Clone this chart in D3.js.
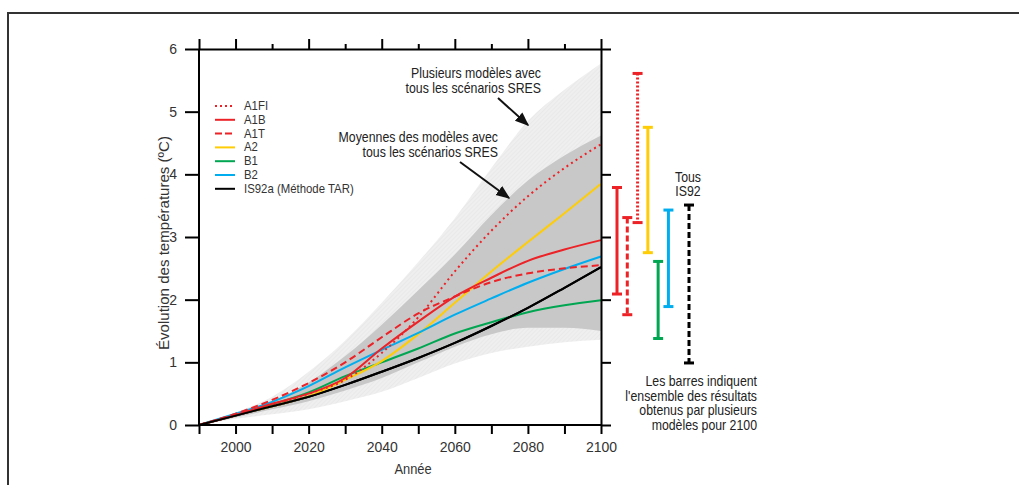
<!DOCTYPE html>
<html><head><meta charset="utf-8">
<script src="https://cdn.jsdelivr.net/npm/d3@7"></script>
<style>
html,body{margin:0;padding:0;background:#fff;}
svg{display:block;font-family:"Liberation Sans",Arial,sans-serif;}
</style></head>
<body><svg id="c" width="1019" height="485"></svg>
<script>
// ---- data ----
const years = [1990,2000,2010,2020,2030,2040,2050,2060,2070,2080,2090,2100];
const A1FI = [0,0.15,0.32,0.50,0.72,1.15,1.72,2.45,3.10,3.65,4.10,4.48];
const A1B  = [0,0.16,0.34,0.50,0.75,1.22,1.65,2.05,2.35,2.62,2.80,2.95];
const A1T  = [0,0.18,0.40,0.67,1.00,1.40,1.78,2.05,2.28,2.42,2.50,2.55];
const A2   = [0,0.16,0.30,0.46,0.72,1.02,1.45,1.95,2.45,2.92,3.38,3.85];
const B1   = [0,0.16,0.33,0.52,0.78,1.00,1.22,1.46,1.64,1.80,1.91,1.99];
const B2   = [0,0.18,0.37,0.62,0.92,1.20,1.47,1.76,2.02,2.27,2.49,2.69];
const IS92a= [0,0.15,0.30,0.45,0.64,0.85,1.07,1.31,1.58,1.87,2.19,2.52];
const envOuterHigh = [0,0.20,0.45,0.85,1.35,1.95,2.60,3.30,4.10,4.85,5.35,5.77];
const envOuterLow  = [0,0.10,0.17,0.25,0.38,0.53,0.75,0.98,1.15,1.25,1.32,1.36];
const envMeanHigh  = [0,0.17,0.38,0.68,1.10,1.60,2.15,2.72,3.35,3.90,4.30,4.62];
const envMeanLow   = [0,0.12,0.25,0.38,0.55,0.75,1.00,1.25,1.45,1.55,1.55,1.50];
const barNames = ["A1B","A1T","A1FI","A2","B1","B2","IS92"];
const barLow   = [2.09,1.76,3.23,2.75,1.38,1.89,0.99];
const barHigh  = [3.79,3.31,5.61,4.75,2.61,3.43,3.51];
const legendLabels = ["A1FI","A1B","A1T","A2","B1","B2","IS92a (Méthode TAR)"];
const yTicks = [0,1,2,3,4,5,6];
const xTickLabels = [2000,2020,2040,2060,2080,2100];

const RED="#ec2227", YEL="#ffcd05", GRN="#00a651", BLU="#00aeef", BLK="#000";
const series = [
  {name:"A1FI", v:A1FI, c:RED, dash:"2,3.5"},
  {name:"A1B",  v:A1B,  c:RED, dash:null},
  {name:"A1T",  v:A1T,  c:RED, dash:"7,4"},
  {name:"A2",   v:A2,   c:YEL, dash:null},
  {name:"B1",   v:B1,   c:GRN, dash:null},
  {name:"B2",   v:B2,   c:BLU, dash:null},
  {name:"IS92a",v:IS92a,c:BLK, dash:null}
];
const barStyle = {A1B:[RED,null],A1T:[RED,"6,3"],A1FI:[RED,"2,2"],A2:[YEL,null],B1:[GRN,null],B2:[BLU,null],IS92:[BLK,"6,3"]};

const svg = d3.select("#c");
const x = d3.scaleLinear().domain([1990,2100]).range([199,601]);
const y = d3.scaleLinear().domain([0,6]).range([425,49]);

// outer frame
svg.append("path").attr("d","M8,485 L8,13 L1019,13").attr("fill","none").attr("stroke","#333").attr("stroke-width",2);

// pattern
const defs = svg.append("defs");
const pat = defs.append("pattern").attr("id","hatch").attr("patternUnits","userSpaceOnUse").attr("width",3).attr("height",3).attr("patternTransform","rotate(45)");
pat.append("rect").attr("width",3).attr("height",3).attr("fill","#efefef");
pat.append("line").attr("x1",0).attr("y1",0).attr("x2",0).attr("y2",3).attr("stroke","#e3e3e3").attr("stroke-width",1);

const area = (hi,lo)=> d3.area().x((d,i)=>x(years[i])).y0((d,i)=>y(lo[i])).y1((d,i)=>y(hi[i])).curve(d3.curveMonotoneX)(years);
svg.append("path").attr("d",area(envOuterHigh,envOuterLow)).attr("fill","url(#hatch)");
svg.append("path").attr("d",area(envMeanHigh,envMeanLow)).attr("fill","#c8c8c8");

// lines
const line = d3.line().x((d,i)=>x(years[i])).y(d=>y(d)).curve(d3.curveMonotoneX);
const order = ["B1","IS92a","A2","B2","A1T","A1B","A1FI"];
order.forEach(n=>{
  const s = series.find(q=>q.name===n);
  svg.append("path").attr("d",line(s.v)).attr("fill","none").attr("stroke",s.c)
    .attr("stroke-width",2).attr("stroke-dasharray",s.dash);
});
svg.append("path").attr("d",line(IS92a)).attr("fill","none").attr("stroke",BLK).attr("stroke-width",2);

// axes
const fs = "14px";
const gB = svg.append("g").attr("transform","translate(0,425)")
  .call(d3.axisBottom(x).tickValues(d3.range(1990,2101,10)).tickSize(9).tickSizeOuter(0).tickPadding(8)
  .tickFormat(d=>xTickLabels.includes(d)?d:""));
const gL = svg.append("g").attr("transform","translate(199,0)")
  .call(d3.axisLeft(y).tickValues(yTicks).tickSize(14).tickSizeOuter(0).tickPadding(8).tickFormat(d3.format("d")));
const gT = svg.append("g").attr("transform","translate(0,49)")
  .call(d3.axisTop(x).tickValues(d3.range(1990,2101,10)).tickSize(10).tickSizeOuter(0).tickFormat(""));
gT.selectAll(".tick line").attr("y2",d=>(d===1990||xTickLabels.includes(d))?-10:-5);
const gR = svg.append("g").attr("transform","translate(601,0)")
  .call(d3.axisRight(y).tickValues(yTicks).tickSize(10).tickSizeOuter(0).tickFormat(""));
[gB,gL,gT,gR].forEach(g=>{
  g.selectAll(".domain").attr("stroke","#000").attr("stroke-width",2);
  g.selectAll(".tick line").attr("stroke","#000").attr("stroke-width",2);
  g.selectAll("text").attr("font-size",fs).attr("fill","#333").attr("font-family",null);
});
gL.select(".domain").attr("d","M0,"+y(6)+"V"+y(0));
gB.select(".domain").attr("d","M"+x(1990)+",0H"+x(2100));

svg.append("text").attr("transform","translate(413,474) scale(0.92,1)").attr("text-anchor","middle").attr("font-size","14px").attr("fill","#333").text("Année");
svg.append("text").attr("transform","translate(169,243) rotate(-90)").attr("text-anchor","middle").attr("font-size","15px").attr("fill","#333")
  .attr("textLength",214).attr("lengthAdjust","spacingAndGlyphs").text("Évolution des températures (ºC)");

// legend
const lg = svg.append("g");
legendLabels.forEach((t,i)=>{
  const s = series[i];
  const yy = 106 + i*13.8;
  lg.append("line").attr("x1",215).attr("x2",235).attr("y1",yy).attr("y2",yy).attr("stroke",s.c).attr("stroke-width",2)
    .attr("stroke-dasharray", s.name==="A1FI"?"2,3":(s.name==="A1T"?"7,3":null));
  lg.append("text").attr("transform",`translate(244,${yy+4}) scale(0.95,1)`).attr("font-size","12px").attr("fill","#333").text(t);
});

// annotations
const ann = (lines,xx,y0,anchor,dy)=>{
  lines.forEach((t,i)=>svg.append("text").attr("transform",`translate(${xx},${y0+i*dy}) scale(0.88,1)`).attr("text-anchor",anchor)
    .attr("font-size","14px").attr("fill","#222").text(t));
};
ann(["Plusieurs modèles avec","tous les scénarios SRES"],541,78,"end",15);
ann(["Moyennes des modèles avec","tous les scénarios SRES"],498,142,"end",14.5);
ann(["Tous","IS92"],688,182,"middle",14);
ann(["Les barres indiquent","l'ensemble des résultats","obtenus par plusieurs","modèles pour 2100"],757,386,"end",14.5);

defs.append("marker").attr("id","arr").attr("viewBox","0 0 10 10").attr("refX",9).attr("refY",5)
  .attr("markerWidth",7).attr("markerHeight",7).attr("orient","auto")
  .append("path").attr("d","M0,1 L10,5 L0,9 Z").attr("fill","#111");
svg.append("line").attr("x1",498).attr("y1",98).attr("x2",528).attr("y2",125).attr("stroke","#111").attr("stroke-width",2).attr("marker-end","url(#arr)");
svg.append("line").attr("x1",460).attr("y1",162).attr("x2",509).attr("y2",198).attr("stroke","#111").attr("stroke-width",2).attr("marker-end","url(#arr)");

// range bars at 2100
const bx = d3.scalePoint().domain(["A1B","A1T","A1FI","A2","B1","B2","gap","IS92"]).range([617,689]);
barNames.forEach((n,i)=>{
  const [c,dash] = barStyle[n];
  const cx = bx(n), y1 = y(barHigh[i]), y2 = y(barLow[i]);
  svg.append("line").attr("x1",cx).attr("x2",cx).attr("y1",y1).attr("y2",y2).attr("stroke",c).attr("stroke-width",3).attr("stroke-dasharray",dash);
  [y1,y2].forEach(yy=>svg.append("line").attr("x1",cx-5).attr("x2",cx+5).attr("y1",yy).attr("y2",yy).attr("stroke",c).attr("stroke-width",3));
});
</script></body></html>
